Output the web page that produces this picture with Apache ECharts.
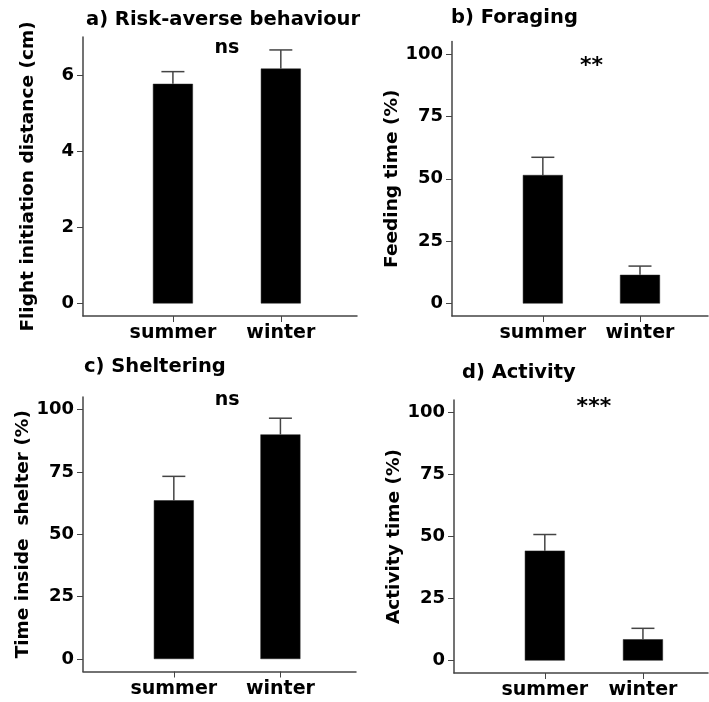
<!DOCTYPE html>
<html>
<head>
<meta charset="utf-8">
<script src="https://cdn.jsdelivr.net/npm/echarts@6/dist/echarts.min.js"></script>
<style>
html,body{margin:0;padding:0;background:#fff;}
#chart{width:709px;height:702px;}
</style>
</head>
<body>
<div id="chart"></div>
<script>
// ---- data ----
const categories = ['summer', 'winter'];
const catPos = [1, 2];

const fidMean = [5.77, 6.17];
const fidUpper = [6.09, 6.66];
const feedMean = [51.5, 11.5];
const feedUpper = [58.6, 15.0];
const shelterMean = [63.6, 90.0];
const shelterUpper = [73.2, 96.5];
const activityMean = [44.3, 8.6];
const activityUpper = [50.8, 13.0];

const ticksFid = [0, 2, 4, 6];
const ticksPct = [0, 25, 50, 75, 100];

const titles = ['a) Risk-averse behaviour', 'b) Foraging', 'c) Sheltering', 'd) Activity'];
const yNames = ['Flight initiation distance (cm)', 'Feeding time (%)', 'Time inside  shelter (%)', 'Activity time (%)'];
const signif = ['ns', '**', 'ns', '***'];
const signifY = [6.72, 96.9, 103.9, 103.9];

// ---- layout ----
const FONT = 'DejaVu Sans';
const panels = [
  {mean: fidMean, upper: fidUpper, ticks: ticksFid, ymin: -0.33, ymax: 7.0,
   grid: {left: 83, top: 37, right: 352, bottom: 386}, xmin: 0.1667, xmax: 2.706,
   title: {left: 86, top: 10}, nameGap: 45},
  {mean: feedMean, upper: feedUpper, ticks: ticksPct, ymin: -5, ymax: 105,
   grid: {left: 452, top: 41.5, right: 1, bottom: 386}, xmin: 0.065, xmax: 2.70,
   title: {left: 451, top: 8}, nameGap: 50},
  {mean: shelterMean, upper: shelterUpper, ticks: ticksPct, ymin: -5, ymax: 105,
   grid: {left: 83, top: 397, right: 353, bottom: 30.5}, xmin: 0.148, xmax: 2.709,
   title: {left: 84, top: 357}, nameGap: 49},
  {mean: activityMean, upper: activityUpper, ticks: ticksPct, ymin: -5, ymax: 105,
   grid: {left: 454, top: 400, right: 1, bottom: 29}, xmin: 0.0745, xmax: 2.663,
   title: {left: 462, top: 363}, nameGap: 49}
];

const axisLineStyle = {color: '#444', width: 1.5};
const option = {
  backgroundColor: '#fff',
  animation: false,
  title: [], grid: [], xAxis: [], yAxis: [], series: []
};

panels.forEach((p, i) => {
  option.title.push({
    text: titles[i], left: p.title.left, top: p.title.top, padding: 0,
    textStyle: {fontFamily: FONT, fontWeight: 'bold', fontSize: 19.5, color: '#000'}
  });
  option.grid.push(Object.assign({containLabel: false}, p.grid));
  option.xAxis.push({
    type: 'value', gridIndex: i, min: p.xmin, max: p.xmax,
    splitLine: {show: false},
    axisLine: {show: true, onZero: false, lineStyle: axisLineStyle},
    axisTick: {show: true, customValues: catPos, length: 6, lineStyle: {color: '#444', width: 1}},
    axisLabel: {customValues: catPos, formatter: v => categories[Math.round(v) - 1],
      fontFamily: FONT, fontWeight: 'bold', fontSize: 19, color: '#000', margin: 8}
  });
  option.yAxis.push({
    type: 'value', gridIndex: i, min: p.ymin, max: p.ymax,
    name: yNames[i], nameLocation: 'middle', nameGap: p.nameGap,
    nameTextStyle: {fontFamily: FONT, fontWeight: 'bold', fontSize: 18.5, color: '#000'},
    splitLine: {show: false},
    axisLine: {show: true, onZero: false, lineStyle: axisLineStyle},
    axisTick: {show: true, customValues: p.ticks, length: 6, lineStyle: {color: '#444', width: 1}},
    axisLabel: {customValues: p.ticks, fontFamily: FONT, fontWeight: 'bold', fontSize: 18, color: '#000', margin: 9}
  });
  // error bars (upper only)
  option.series.push({
    type: 'custom', xAxisIndex: i, yAxisIndex: i, z: 1,
    data: categories.map((c, k) => [catPos[k], p.mean[k], p.upper[k]]),
    renderItem: function (params, api) {
      const base = api.coord([api.value(0), api.value(1)]);
      const top = api.coord([api.value(0), api.value(2)]);
      const hw = 11.5;
      return {
        type: 'group',
        children: [
          {type: 'line', shape: {x1: base[0], y1: base[1], x2: top[0], y2: top[1]},
           style: {stroke: '#444', lineWidth: 1.5}},
          {type: 'line', shape: {x1: top[0] - hw, y1: top[1], x2: top[0] + hw, y2: top[1]},
           style: {stroke: '#444', lineWidth: 1.5}}
        ]
      };
    }
  });
  option.series.push({
    type: 'bar', xAxisIndex: i, yAxisIndex: i, z: 2, barWidth: 40,
    data: categories.map((c, k) => [catPos[k], p.mean[k]]),
    itemStyle: {color: '#000', borderColor: '#222', borderWidth: 0.5}
  });
  const isNs = signif[i] === 'ns';
  option.series.push({
    type: 'scatter', xAxisIndex: i, yAxisIndex: i, symbolSize: 0.001, z: 3,
    itemStyle: {opacity: 1},
    data: [[1.5, signifY[i]]],
    label: {show: true, position: 'inside', formatter: signif[i], offset: [0, isNs ? 0 : 5],
      fontFamily: FONT, fontWeight: 'bold', fontSize: isNs ? 19 : 22, color: '#000'}
  });
});

const chart = echarts.init(document.getElementById('chart'), null, {renderer: 'canvas'});
chart.setOption(option);
</script>
</body>
</html>
